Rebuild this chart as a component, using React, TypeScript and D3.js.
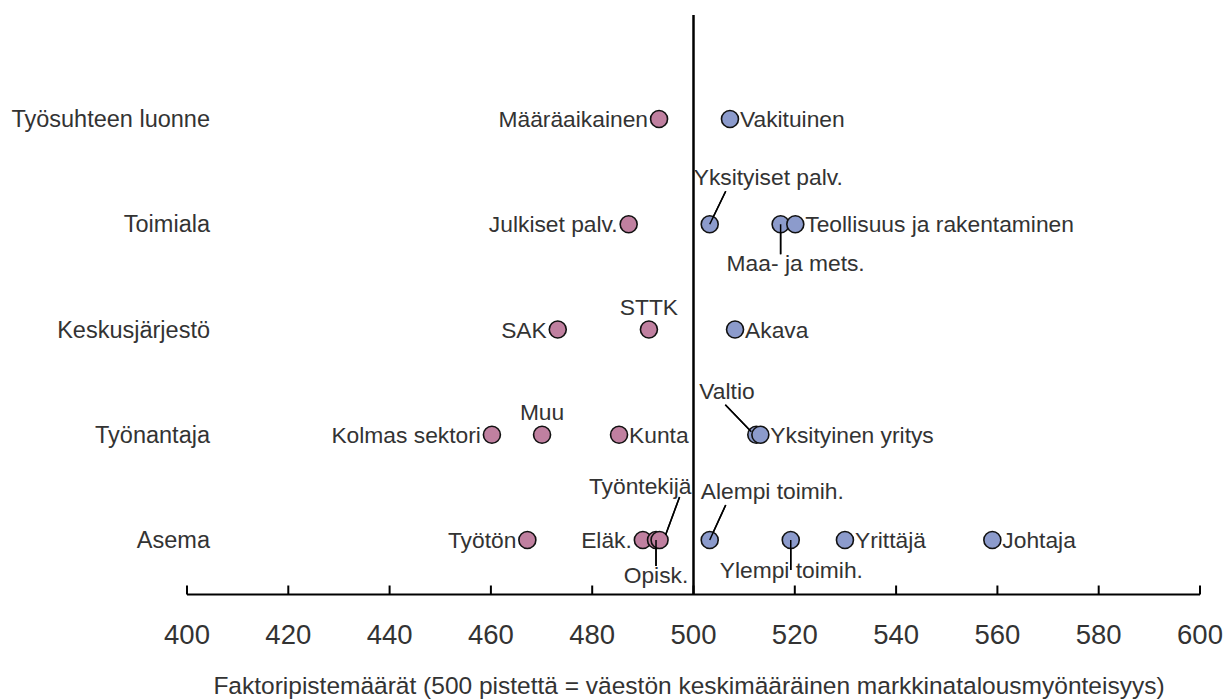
import React from "react";
import * as d3 from "d3";

// ---- Data ----
const categories = ["Työsuhteen luonne", "Toimiala", "Keskusjärjestö", "Työnantaja", "Asema"];

const pointCategory = [
  "Työsuhteen luonne", "Työsuhteen luonne",
  "Toimiala", "Toimiala", "Toimiala", "Toimiala",
  "Keskusjärjestö", "Keskusjärjestö", "Keskusjärjestö",
  "Työnantaja", "Työnantaja", "Työnantaja", "Työnantaja", "Työnantaja",
  "Asema", "Asema", "Asema", "Asema", "Asema", "Asema", "Asema", "Asema",
];
const pointNames = [
  "Määräaikainen", "Vakituinen",
  "Julkiset palv.", "Yksityiset palv.", "Maa- ja mets.", "Teollisuus ja rakentaminen",
  "SAK", "STTK", "Akava",
  "Kolmas sektori", "Muu", "Kunta", "Valtio", "Yksityinen yritys",
  "Työtön", "Eläk.", "Opisk.", "Työntekijä", "Alempi toimih.", "Ylempi toimih.", "Yrittäjä", "Johtaja",
];
const pointValues = [
  493.2, 507.2,
  487.2, 503.2, 517.2, 520.1,
  473.2, 491.2, 508.2,
  460.2, 470.1, 485.3, 512.4, 513.2,
  467.2, 490.0, 492.6, 493.3, 503.2, 519.2, 529.9, 559.0,
];

const xTicks = [400, 420, 440, 460, 480, 500, 520, 540, 560, 580, 600];
const xTitle = "Faktoripistemäärät (500 pistettä = väestön keskimääräinen markkinatalousmyönteisyys)";

// ---- Label layout (presentation only) ----
type Lab = { kind: "left" | "right" | "above" | "callout"; tx?: number; ty?: number; anchor?: string; lx1?: number; ly1?: number; lx2?: number; ly2?: number };
const labelLayout: Record<string, Lab> = {
  "Määräaikainen": { kind: "left" },
  "Vakituinen": { kind: "right" },
  "Julkiset palv.": { kind: "left" },
  "Yksityiset palv.": { kind: "callout", tx: -16, ty: -39, anchor: "start", lx1: 16, ly1: -33, lx2: 0, ly2: 0 },
  "Maa- ja mets.": { kind: "callout", tx: -54, ty: 47, anchor: "start", lx1: 0, ly1: 0, lx2: 0, ly2: 30 },
  "Teollisuus ja rakentaminen": { kind: "right" },
  "SAK": { kind: "left" },
  "STTK": { kind: "above" },
  "Akava": { kind: "right" },
  "Kolmas sektori": { kind: "left" },
  "Muu": { kind: "above" },
  "Kunta": { kind: "right" },
  "Valtio": { kind: "callout", tx: -57, ty: -36, anchor: "start", lx1: -31, ly1: -30, lx2: -5, ly2: -3 },
  "Yksityinen yritys": { kind: "right" },
  "Työtön": { kind: "left" },
  "Eläk.": { kind: "left" },
  "Opisk.": { kind: "callout", tx: 0, ty: 43, anchor: "middle", lx1: 0, ly1: 0, lx2: 0, ly2: 26 },
  "Työntekijä": { kind: "callout", tx: 32, ty: -46, anchor: "end", lx1: 20, ly1: -43, lx2: 6, ly2: -5 },
  "Alempi toimih.": { kind: "callout", tx: -9, ty: -41, anchor: "start", lx1: 16, ly1: -35, lx2: 0, ly2: 0 },
  "Ylempi toimih.": { kind: "callout", tx: -71, ty: 38, anchor: "start", lx1: 0, ly1: 0, lx2: 0, ly2: 30 },
  "Yrittäjä": { kind: "right" },
  "Johtaja": { kind: "right" },
};

const W = 1232;
const H = 699;
const FONT = "'Liberation Sans', Arial, sans-serif";
const TEXT = "#333333";
const NEG = "#c080a0";
const POS = "#8c9bcc";

export default function App() {
  const x = d3.scaleLinear().domain([400, 600]).range([187, 1200]);
  const y = d3.scalePoint<string>().domain(categories).range([119, 540]);
  const axisY = 594.5;
  const r = 8.5;

  const points = pointNames.map((name, i) => ({
    name,
    cat: pointCategory[i],
    value: pointValues[i],
  }));
  const drawOrder = [...points].sort((a, b) => a.value - b.value);

  const leader = (p: { name: string; cat: string; value: number }, k: string) => {
    const L = labelLayout[p.name];
    if (L.kind !== "callout") return null;
    const cx = x(p.value);
    const cy = y(p.cat) as number;
    return (
      <line key={k + p.name} x1={cx + (L.lx1 ?? 0)} y1={cy + (L.ly1 ?? 0)} x2={cx + (L.lx2 ?? 0)} y2={cy + (L.ly2 ?? 0)} stroke="#000" strokeWidth={1.5} />
    );
  };

  return (
    <svg width={W} height={H} style={{ position: "absolute", left: 0, top: 0, background: "#fff" }}>
      {categories.map((c) => (
        <text key={c} x={210} y={(y(c) as number) + 8} textAnchor="end" fontFamily={FONT} fontSize={23.5} fill={TEXT}>
          {c}
        </text>
      ))}

      <line x1={x(500)} x2={x(500)} y1={15} y2={axisY} stroke="#000" strokeWidth={2.5} />

      <line x1={x(400)} x2={x(600)} y1={axisY} y2={axisY} stroke="#000" strokeWidth={2} />
      {xTicks.map((t) => (
        <g key={t}>
          <line x1={x(t)} x2={x(t)} y1={axisY} y2={axisY - 9} stroke="#000" strokeWidth={2} />
          <text x={x(t)} y={644} textAnchor="middle" fontFamily={FONT} fontSize={27.5} fill={TEXT}>
            {t}
          </text>
        </g>
      ))}
      <text x={689} y={694} textAnchor="middle" fontFamily={FONT} fontSize={24.5} fill={TEXT}>
        {xTitle}
      </text>

      {points.map((p) => leader(p, "a"))}

      {drawOrder.map((p) => (
        <circle key={"c" + p.name} cx={x(p.value)} cy={y(p.cat) as number} r={r} fill={p.value < 500 ? NEG : POS} stroke="#111" strokeWidth={1.6} />
      ))}

      {points.map((p) => leader(p, "b"))}

      {points.map((p) => {
        const L = labelLayout[p.name];
        const cx = x(p.value);
        const cy = y(p.cat) as number;
        let tx = cx, ty = cy + 8, anchor = "start";
        if (L.kind === "left") { tx = cx - 11; anchor = "end"; }
        else if (L.kind === "right") { tx = cx + 10; anchor = "start"; }
        else if (L.kind === "above") { tx = cx; ty = cy - 15; anchor = "middle"; }
        else { tx = cx + (L.tx ?? 0); ty = cy + (L.ty ?? 0); anchor = L.anchor ?? "start"; }
        return (
          <text key={"t" + p.name} x={tx} y={ty} textAnchor={anchor} fontFamily={FONT} fontSize={22.8} fill={TEXT}>
            {p.name}
          </text>
        );
      })}
    </svg>
  );
}
